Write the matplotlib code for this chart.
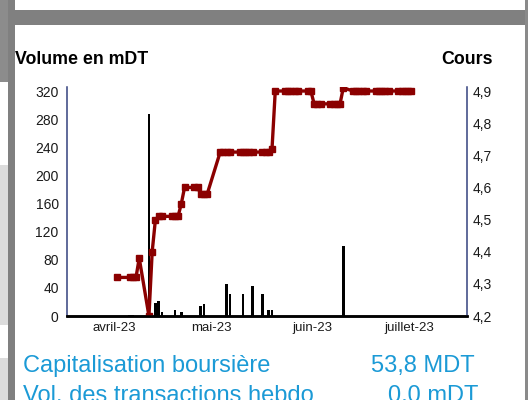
import numpy as np
import pandas as pd
import matplotlib
matplotlib.use("Agg")
import matplotlib.pyplot as plt
import matplotlib.dates as mdates
import matplotlib.transforms as mtransforms
from matplotlib.patches import Rectangle

plt.rcParams['font.family'] = ['Liberation Sans', 'DejaVu Sans']

# ----------------------------------------------------------
# data
# ----------------------------------------------------------
price_dates = ['2023-03-31', '2023-04-04', '2023-04-05', '2023-04-06', '2023-04-07',
               '2023-04-10', '2023-04-11', '2023-04-12', '2023-04-13', '2023-04-14',
               '2023-04-17', '2023-04-18', '2023-04-19', '2023-04-20', '2023-04-21',
               '2023-04-24', '2023-04-25', '2023-04-26', '2023-04-27', '2023-04-28',
               '2023-05-02', '2023-05-03', '2023-05-04', '2023-05-05', '2023-05-08',
               '2023-05-09', '2023-05-10', '2023-05-11', '2023-05-12', '2023-05-15',
               '2023-05-16', '2023-05-17', '2023-05-18', '2023-05-19', '2023-05-22',
               '2023-05-23', '2023-05-24', '2023-05-25', '2023-05-26', '2023-05-29',
               '2023-05-30', '2023-05-31', '2023-06-01', '2023-06-02', '2023-06-05',
               '2023-06-06', '2023-06-07', '2023-06-08', '2023-06-09', '2023-06-12',
               '2023-06-13', '2023-06-14', '2023-06-15', '2023-06-16', '2023-06-19',
               '2023-06-20', '2023-06-21', '2023-06-22', '2023-06-23', '2023-06-26',
               '2023-06-27', '2023-06-28', '2023-06-29', '2023-06-30']
prices = [4.32, 4.32, 4.32, 4.32, 4.38,
          4.20, 4.40, 4.50, 4.51, 4.51,
          4.51, 4.51, 4.51, 4.55, 4.60,
          4.60, 4.60, 4.58, 4.58, 4.58,
          4.71, 4.71, 4.71, 4.71, 4.71,
          4.71, 4.71, 4.71, 4.71, 4.71,
          4.71, 4.71, 4.72, 4.90, 4.90,
          4.90, 4.90, 4.90, 4.90, 4.90,
          4.90, 4.86, 4.86, 4.86, 4.86,
          4.86, 4.86, 4.86, 4.91, 4.90,
          4.90, 4.90, 4.90, 4.90, 4.90,
          4.90, 4.90, 4.90, 4.90, 4.90,
          4.90, 4.90, 4.90, 4.90]

vol_dates = ['2023-04-04', '2023-04-05', '2023-04-10', '2023-04-12', '2023-04-13',
             '2023-04-14', '2023-04-18', '2023-04-20', '2023-04-26', '2023-04-27',
             '2023-05-04', '2023-05-05', '2023-05-09', '2023-05-12', '2023-05-15',
             '2023-05-17', '2023-05-18', '2023-06-09']
volumes = [1.5, 1.5, 287, 19, 22, 5, 8, 5, 14, 17, 45, 31, 31, 42, 31, 8, 8, 100]

month_ticks = ['2023-04-01', '2023-05-01', '2023-06-01', '2023-07-01']
month_labels = ['avril-23', 'mai-23', 'juin-23', 'juillet-23']

vol_ticks = [0, 40, 80, 120, 160, 200, 240, 280, 320]
price_ticks = [4.2, 4.3, 4.4, 4.5, 4.6, 4.7, 4.8, 4.9]

cap_label = 'Capitalisation boursière'
cap_value = '53,8 MDT'
vol_label = 'Vol. des transactions hebdo'
vol_value = '0,0 mDT'

W, H = 529, 400
BLUE = '#1b9ad6'
RED = '#8b0000'
NAVY = '#34417f'


def px_rect(fig, x0, y0, x1, y1, color):
    # rectangle given in pixels, origin top-left
    fig.patches.append(Rectangle((x0 / W, 1 - y1 / H), (x1 - x0) / W, (y1 - y0) / H,
                                 transform=fig.transFigure, color=color, lw=0, zorder=0))


fig = plt.figure(figsize=(W / 100, H / 100), dpi=100)
fig.patch.set_facecolor('white')

# page frame around the chart card
px_rect(fig, 0, 0, 8, 82, '#8c8c8c')
px_rect(fig, 0, 165, 8, 325, '#dcdcdc')
px_rect(fig, 0, 358, 8, 400, '#dcdcdc')
px_rect(fig, 8, 0, 15, 400, '#808080')
px_rect(fig, 15, 10, 525, 25, '#808080')
px_rect(fig, 525, 0, 528, 400, '#8a8a8a')

ax = fig.add_axes([67 / W, 1 - 316 / H, 400 / W, 229 / H])
ax2 = ax.twinx()
ax.patch.set_alpha(0)

vd = pd.to_datetime(vol_dates)
pd_dates = pd.to_datetime(price_dates)

ax.bar(vd, volumes, width=0.8, color='black', zorder=2)
ax2.plot(pd_dates, prices, color=RED, lw=2.4, marker='s', markersize=4.0,
         solid_joinstyle='miter')

apr1 = mdates.date2num(pd.Timestamp('2023-04-01'))
ax.set_xlim(apr1 - 16.3, apr1 + 107.2)
ax.set_ylim(0, 325.7)
ax2.set_ylim(4.2, 4.9125)

ax.set_yticks(vol_ticks)
ax.set_yticklabels([str(v) for v in vol_ticks])
ax2.set_yticks(price_ticks)
ax2.set_yticklabels([('%.1f' % v).replace('.', ',') for v in price_ticks])
ax.set_xticks(pd.to_datetime(month_ticks))
ax.set_xticklabels(month_labels)

ax.tick_params(axis='y', length=0, pad=6, labelsize=10, labelcolor='#1a1a1a')
ax2.tick_params(axis='y', length=0, pad=4, labelsize=10, labelcolor='#1a1a1a')
ax.tick_params(axis='x', length=0, pad=4, labelsize=9.5, labelcolor='#1a1a1a')

# month labels sit a little left of the month start
shift = mtransforms.ScaledTranslation(-5.5 / 100, 0, fig.dpi_scale_trans)
for lab in ax.get_xticklabels():
    lab.set_transform(lab.get_transform() + shift)

for a in (ax, ax2):
    a.spines['top'].set_visible(False)
    a.spines['left'].set_color(NAVY)
    a.spines['right'].set_color(NAVY)
    a.spines['left'].set_linewidth(1.1)
    a.spines['right'].set_linewidth(1.1)
    a.spines['bottom'].set_color('black')
    a.spines['bottom'].set_linewidth(1.8)
ax.spines['right'].set_visible(False)
ax2.spines['left'].set_visible(False)

# headers
fig.text(15 / W, 1 - 64 / H, 'Volume en mDT', fontsize=12.8, fontweight='bold',
         ha='left', va='baseline')
fig.text(493 / W, 1 - 64 / H, 'Cours', fontsize=12.8, fontweight='bold',
         ha='right', va='baseline')

# info lines under the chart (the second one is cut by the bottom edge, as in the source)
fig.text(23 / W, 1 - 372 / H, cap_label, fontsize=17, color=BLUE, ha='left', va='baseline')
fig.text(475 / W, 1 - 372 / H, cap_value, fontsize=17, color=BLUE, ha='right', va='baseline')
fig.text(23 / W, 1 - 402 / H, vol_label, fontsize=17, color=BLUE, ha='left', va='baseline')
fig.text(478 / W, 1 - 402 / H, vol_value, fontsize=17, color=BLUE, ha='right', va='baseline')

fig.savefig('out.png', dpi=100)
plt.close(fig)
